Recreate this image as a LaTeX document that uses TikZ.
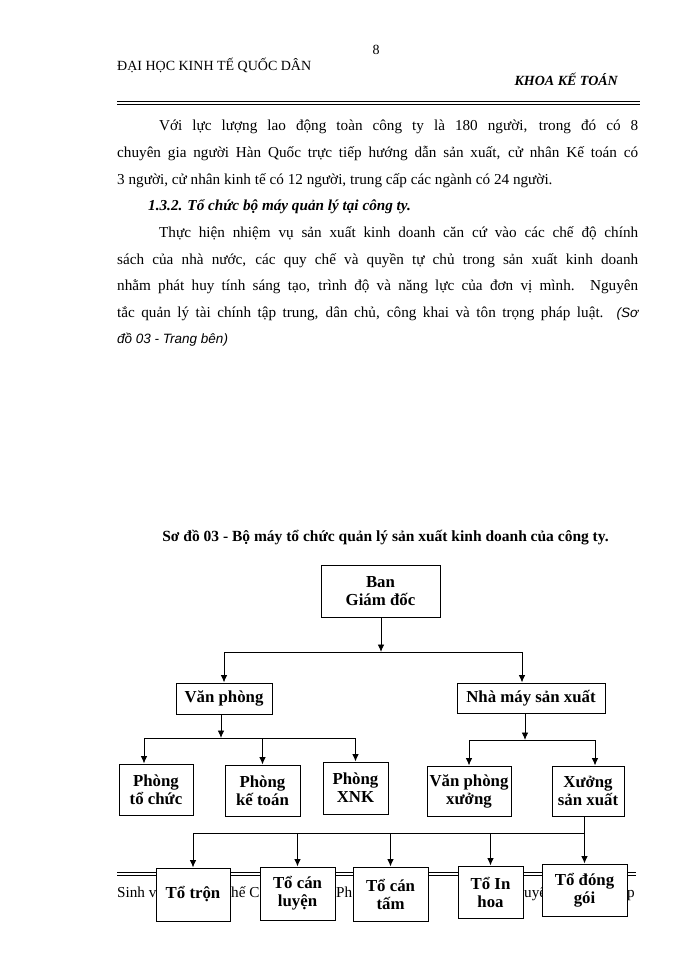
\documentclass[tikz,border=0pt]{standalone}
\usepackage{fontspec}
\setmainfont{Liberation Serif}
\newfontfamily\notefont{Liberation Sans}
\usetikzlibrary{arrows.meta, positioning}

\tikzset{
  box/.style={draw, fill=white, line width=1pt, align=center, inner sep=0pt,
    font=\fontsize{16.8}{18}\selectfont\bfseries},
  arr/.style={-{Latex[length=7.5pt,width=6.5pt]}, line width=0.9pt},
  txt/.style={anchor=base west, inner sep=0pt, font=\fontsize{15.2}{17}\selectfont},
}

\begin{document}
\begin{tikzpicture}[x=1pt, y=-1pt]
\fill[white] (0,0) rectangle (700,960);
\useasboundingbox (0,0) rectangle (700,960);

% header
\node[anchor=base, inner sep=0pt, font=\fontsize{14}{16}\selectfont] (pg) at (376,55) {8};
\node[txt, font=\fontsize{14}{16}\selectfont] (uni) at (117,71) {ĐẠI HỌC KINH TẾ QUỐC DÂN};
\node[anchor=base east, inner sep=0pt, font=\fontsize{14}{16}\selectfont\bfseries\itshape] (fac) at (618,86) {KHOA KẾ TOÁN};
\draw[line width=0.8pt] (117,101) -- (640,101);
\draw[line width=0.8pt] (117,104.5) -- (640,104.5);

% text
\node[txt] (l1) at (159,131) {\makebox[479pt][s]{Với lực lượng lao động toàn công ty là 180 người, trong đó có 8}};
\node[txt] (l2) at (117,157.6) {\makebox[521pt][s]{chuyên gia người Hàn Quốc trực tiếp hướng dẫn sản xuất, cử nhân Kế toán có}};
\node[txt] (l3) at (117,184.2) {3 người, cử nhân kinh tế có 12 người, trung cấp các ngành có 24 người.};
\node[txt, font=\fontsize{15.2}{17}\selectfont\bfseries\itshape] (sec) at (148,210.8) {1.3.2. Tổ chức bộ máy quản lý tại công ty.};
\node[txt] (l5) at (159,237.4) {\makebox[479pt][s]{Thực hiện nhiệm vụ sản xuất kinh doanh căn cứ vào các chế độ chính}};
\node[txt] (l6) at (117,264) {\makebox[521pt][s]{sách của nhà nước, các quy chế và quyền tự chủ trong sản xuất kinh doanh}};
\node[txt] (l7) at (117,290.6) {\makebox[521pt][s]{nhằm phát huy tính sáng tạo, trình độ và năng lực của đơn vị mình. Nguyên}};
\node[txt] (l8) at (117,317.2) {\makebox[521pt][s]{tắc quản lý tài chính tập trung, dân chủ, công khai và tôn trọng pháp luật. {\notefont\fontsize{13.5}{15}\selectfont\itshape (Sơ}}};
\node[txt, font=\notefont\fontsize{13.5}{15}\selectfont\itshape] (l9) at (117,343.8) {đồ 03 - Trang bên)};

% caption
\node[anchor=base, inner sep=0pt, font=\fontsize{15.5}{17}\selectfont\bfseries] (cap) at (385.5,541) {Sơ đồ 03 - Bộ máy tổ chức quản lý sản xuất kinh doanh của công ty.};

% footer (mostly covered by the boxes)
\draw[line width=0.8pt] (117,872) -- (636,872);
\draw[line width=0.8pt] (117,875.5) -- (636,875.5);
\node[txt] (f1) at (117,897) {Sinh v};
\node[txt] (f2) at (231,897) {hế C};
\node[txt] (f3) at (336,897) {Ph};
\node[txt] (f4) at (524,897) {uyế};
\node[txt] (f5) at (627,897) {p};

% boxes
\node[box, minimum width=119pt, minimum height=52pt] (bgd) at (380.5,591) {Ban\\Giám đốc};
\node[box, minimum width=96pt, minimum height=31pt] (vp) at (224,698.5) {Văn phòng};
\node[box, minimum width=148pt, minimum height=30pt] (nm) at (531,698) {Nhà máy sản xuất};
\node[box, minimum width=74pt, minimum height=51pt] (ptc) at (156,789.5) {Phòng\\tổ chức};
\node[box, minimum width=75pt, minimum height=51pt] (pkt) at (262.5,790.5) {Phòng\\kế toán};
\node[box, minimum width=65pt, minimum height=52pt] (pxnk) at (355.5,788) {Phòng\\XNK};
\node[box, minimum width=84pt, minimum height=50pt] (vpx) at (469,791) {Văn phòng\\xưởng};
\node[box, minimum width=72pt, minimum height=50pt] (xsx) at (588,791) {Xưởng\\sản xuất};
\node[box, minimum width=74pt, minimum height=53pt] (ttr) at (193,894.5) {Tổ trộn};
\node[box, minimum width=75pt, minimum height=53pt] (tcl) at (297.5,893.5) {Tổ cán\\luyện};
\node[box, minimum width=75pt, minimum height=54pt] (tct) at (390.5,894) {Tổ cán\\tấm};
\node[box, minimum width=65pt, minimum height=52pt] (tih) at (490.5,892) {Tổ In\\hoa};
\node[box, minimum width=85pt, minimum height=52pt] (tdg) at (584.5,890) {Tổ đóng\\gói};

% connectors
\coordinate (t1) at (381,652);
\coordinate (t2) at (221,738);
\coordinate (t3) at (525,740);
\coordinate (t4) at (584,833);
\draw[arr] (bgd.south -| t1) -- (t1);
\draw[arr] (t1) -| (vp.north);
\draw[arr] (t1) -| ([xshift=-9pt]nm.north);
\draw[arr] (vp.south -| t2) -- (t2);
\draw[arr] (t2) -| ([xshift=-12pt]ptc.north);
\draw[arr] (t2) -| (pkt.north);
\draw[arr] (t2) -| (pxnk.north);
\draw[arr] (nm.south -| t3) -- (t3);
\draw[arr] (t3) -| (vpx.north);
\draw[arr] (t3) -| ([xshift=7pt]xsx.north);
\draw[line width=0.9pt] (xsx.south -| t4) -- (t4);
\foreach \n in {ttr,tcl,tct,tih,tdg}
  \draw[arr] (t4) -| (\n.north);
\end{tikzpicture}
\end{document}
